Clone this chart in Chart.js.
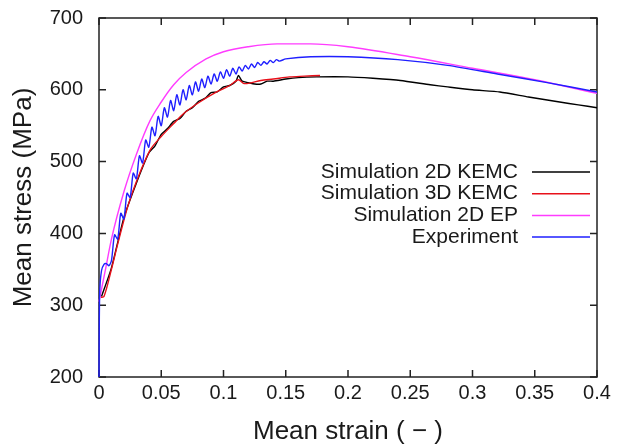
<!DOCTYPE html>
<html>
<head>
<meta charset="utf-8">
<script src="https://cdn.jsdelivr.net/npm/chart.js@4.4.1/dist/chart.umd.min.js"></script>
<style>
  html, body { margin: 0; padding: 0; background: #fff; }
  #wrap { width: 622px; height: 447px; }
</style>
</head>
<body>
<div id="wrap"><canvas id="stressChart" width="622" height="447"></canvas></div>
<script>
// Simulation 2D KEMC (black)
const kemc2dStrain = [0.002, 0.01, 0.02, 0.03, 0.04, 0.045, 0.05, 0.055, 0.06, 0.065, 0.07, 0.075, 0.08, 0.085, 0.09, 0.095, 0.10, 0.105, 0.11, 0.112, 0.115, 0.12, 0.125, 0.13, 0.135, 0.14, 0.15, 0.16, 0.175, 0.2, 0.22, 0.242, 0.266, 0.28, 0.3, 0.322, 0.345, 0.37, 0.385, 0.4];
const kemc2dStress = [312, 352, 422, 470, 512, 522, 538, 546, 556, 560, 570, 575, 584, 588, 596, 597, 604, 606, 612, 620, 612, 610, 608, 608, 612, 612, 615, 617, 618, 618, 616, 613, 607, 604, 600, 597, 590, 583, 579, 575];

// Simulation 3D KEMC (red)
const kemc3dStrain = [0.0015, 0.004, 0.01, 0.015, 0.023, 0.03, 0.041, 0.05, 0.06, 0.068, 0.08, 0.0945, 0.105, 0.112, 0.116, 0.12, 0.13, 0.14, 0.153, 0.165, 0.1775];
const kemc3dStress = [311, 312, 350, 385, 437, 472, 516, 535, 553, 567, 582, 597, 606, 614, 609, 609, 613, 615, 618, 619, 620];

// Simulation 2D EP (magenta)
const ep2dStrain = [0, 0.005, 0.01, 0.02, 0.03, 0.041, 0.05, 0.06, 0.07, 0.086, 0.1, 0.12, 0.143, 0.17, 0.2, 0.25, 0.3, 0.35, 0.4];
const ep2dStress = [305, 348, 392, 458, 510, 557, 583, 607, 624, 643, 653, 660, 664, 664, 660, 646, 630, 614, 595];

// Experiment (blue, serrated)
const expStrain = [0, 0.0002, 0.0006, 0.002, 0.004, 0.006, 0.008,
  0.0100, 0.0125, 0.0150, 0.0175, 0.0200, 0.0225, 0.0250, 0.0275, 0.0300, 0.0325,
  0.0350, 0.0375, 0.0400, 0.0425, 0.0450, 0.0475, 0.0500, 0.0525, 0.0550, 0.0575,
  0.0600, 0.0625, 0.0650, 0.0675, 0.0700, 0.0725, 0.0750, 0.0775, 0.0800, 0.0825,
  0.0850, 0.0875, 0.0900, 0.0925, 0.0950, 0.0975, 0.1000, 0.1025, 0.1050, 0.1075,
  0.1100, 0.1125, 0.1150, 0.1175, 0.1200, 0.1225, 0.1250, 0.1275, 0.1300, 0.1325,
  0.1350, 0.1375, 0.1400, 0.1425, 0.1450, 0.1500,
  0.17, 0.20, 0.24, 0.28, 0.32, 0.36, 0.40];
const expStress = [200, 265, 320, 348, 357, 358, 355,
  362, 398, 392, 428, 420, 456, 450, 484, 476, 508,
  498, 530, 520, 548, 536, 563, 550, 575, 562, 585,
  571, 593, 579, 600, 586, 606, 593, 611, 598, 615,
  603, 619, 608, 622, 612, 625, 616, 628, 619, 630,
  622, 632, 626, 634, 629, 636, 631, 638, 634, 639,
  636, 641, 638, 642, 640, 643,
  646, 646, 642, 634, 622, 610, 597];

const strainTicks = [0, 0.05, 0.1, 0.15, 0.2, 0.25, 0.3, 0.35, 0.4];
const stressTicks = [200, 300, 400, 500, 600, 700];

const toPoints = (xs, ys) => xs.map((x, i) => ({ x: x, y: ys[i] }));

const FONT = "'Liberation Sans', Arial, Helvetica, sans-serif";
const INK = '#1a1a1a';

// frame + inward ticks on all four sides, gnuplot style
const framePlugin = {
    id: 'frame',
    beforeDatasetsDraw(chart) {
        const { ctx, chartArea: a, scales } = chart;
        const len = 7;
        ctx.save();
        ctx.strokeStyle = '#222';
        ctx.lineWidth = 1.5;
        ctx.strokeRect(a.left, a.top, a.right - a.left, a.bottom - a.top);
        ctx.beginPath();
        scales.x.ticks.forEach(t => {
            const px = scales.x.getPixelForValue(t.value);
            ctx.moveTo(px, a.bottom); ctx.lineTo(px, a.bottom - len);
            ctx.moveTo(px, a.top); ctx.lineTo(px, a.top + len);
        });
        scales.y.ticks.forEach(t => {
            const py = scales.y.getPixelForValue(t.value);
            ctx.moveTo(a.left, py); ctx.lineTo(a.left + len, py);
            ctx.moveTo(a.right, py); ctx.lineTo(a.right - len, py);
        });
        ctx.stroke();
        ctx.restore();
    }
};

// key inside the plot, text right-aligned with a line sample after it
const keyPlugin = {
    id: 'key',
    afterDraw(chart) {
        const { ctx, chartArea: a } = chart;
        const lineEnd = a.right - 7;
        const lineStart = lineEnd - 58;
        const textRight = lineStart - 14;
        let y = a.top + 154;
        ctx.save();
        ctx.font = '21px ' + FONT;
        ctx.textAlign = 'right';
        ctx.textBaseline = 'middle';
        chart.data.datasets.forEach(ds => {
            ctx.fillStyle = INK;
            ctx.fillText(ds.label, textRight, y);
            ctx.strokeStyle = ds.borderColor;
            ctx.lineWidth = 1.5;
            ctx.beginPath();
            ctx.moveTo(lineStart, y);
            ctx.lineTo(lineEnd, y);
            ctx.stroke();
            y += 21.7;
        });
        ctx.restore();
    }
};

const ctx = document.getElementById('stressChart');
new Chart(ctx, {
    type: 'line',
    data: {
        datasets: [
            { label: 'Simulation 2D KEMC', data: toPoints(kemc2dStrain, kemc2dStress), borderColor: '#000000', order: 4, tension: 0.2 },
            { label: 'Simulation 3D KEMC', data: toPoints(kemc3dStrain, kemc3dStress), borderColor: '#e8101a', order: 3, tension: 0.3 },
            { label: 'Simulation 2D EP', data: toPoints(ep2dStrain, ep2dStress), borderColor: '#ff3cff', order: 2, cubicInterpolationMode: 'monotone' },
            { label: 'Experiment', data: toPoints(expStrain, expStress), borderColor: '#1f1fff', order: 1, tension: 0.25 }
        ]
    },
    options: {
        responsive: false,
        animation: false,
        events: [],
        layout: { padding: { left: 0, right: 25, top: 18, bottom: 0 } },
        elements: {
            point: { radius: 0 },
            line: { borderWidth: 1.4, fill: false }
        },
        datasets: { line: { clip: 3 } },
        plugins: {
            legend: { display: false },
            tooltip: { enabled: false }
        },
        scales: {
            x: {
                type: 'linear',
                min: 0, max: 0.4,
                border: { display: false },
                grid: { display: false, drawTicks: false },
                afterBuildTicks: s => { s.ticks = strainTicks.map(v => ({ value: v })); },
                afterFit: s => { s.height = 70; },
                ticks: {
                    color: INK,
                    padding: 4,
                    maxRotation: 0,
                    font: { family: FONT, size: 20 },
                    callback: v => String(v)
                },
                title: {
                    display: true,
                    text: 'Mean strain ( − )',
                    color: INK,
                    font: { family: FONT, size: 26 },
                    padding: { top: 0, bottom: 0 }
                }
            },
            y: {
                min: 200, max: 700,
                border: { display: false },
                grid: { display: false, drawTicks: false },
                afterBuildTicks: s => { s.ticks = stressTicks.map(v => ({ value: v })); },
                afterFit: s => { s.width = 99; s.paddingTop = 10; s.paddingBottom = 10; },
                ticks: {
                    color: INK,
                    padding: 16,
                    font: { family: FONT, size: 20 }
                },
                title: {
                    display: true,
                    text: 'Mean stress (MPa)',
                    color: INK,
                    font: { family: FONT, size: 26 },
                    padding: { top: 8, bottom: 0 }
                }
            }
        }
    },
    plugins: [framePlugin, keyPlugin]
});
</script>
</body>
</html>
